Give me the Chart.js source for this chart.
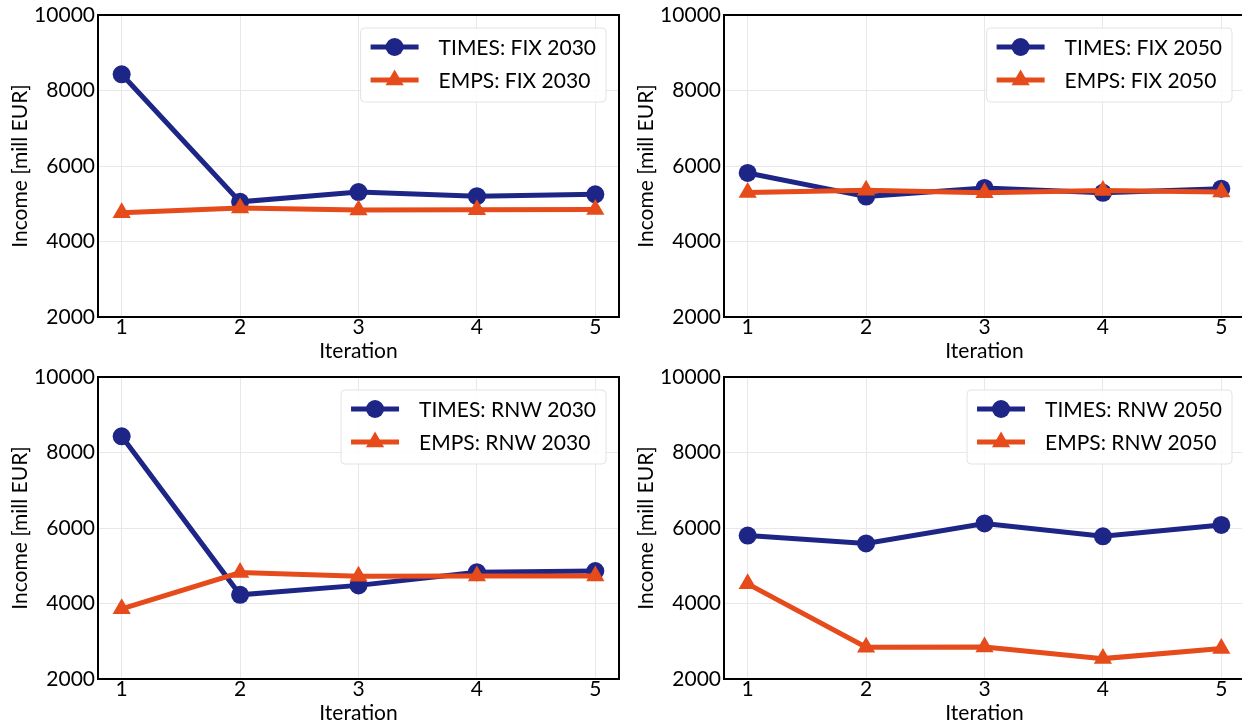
<!DOCTYPE html>
<html>
<head>
<meta charset="utf-8">
<script src="https://cdn.jsdelivr.net/npm/chart.js@4.4.1/dist/chart.umd.min.js"></script>
<style>
  html, body { margin: 0; padding: 0; background: #fff; overflow: hidden; }
  body { width: 1242px; height: 727px; position: relative; }
  .box { position: absolute; width: 622px; height: 362px; }
</style>
</head>
<body>
<div class="box" style="left:0;top:0"><canvas id="c1"></canvas></div>
<div class="box" style="left:626px;top:0"><canvas id="c2"></canvas></div>
<div class="box" style="left:0;top:362px"><canvas id="c3"></canvas></div>
<div class="box" style="left:626px;top:362px"><canvas id="c4"></canvas></div>
<script>
// ---- data ----
const iterations = [1, 2, 3, 4, 5];
const yTickValues = [2000, 4000, 6000, 8000, 10000];

const timesFix2030 = [8430, 5050, 5310, 5200, 5250];
const empsFix2030  = [4760, 4890, 4835, 4840, 4845];
const timesFix2050 = [5815, 5190, 5420, 5290, 5400];
const empsFix2050  = [5300, 5360, 5290, 5350, 5310];
const timesRnw2030 = [8430, 4230, 4480, 4830, 4860];
const empsRnw2030  = [3860, 4820, 4720, 4730, 4730];
const timesRnw2050 = [5800, 5590, 6120, 5780, 6080];
const empsRnw2050  = [4520, 2840, 2850, 2540, 2810];

const labelsTimes = ['TIMES: FIX 2030', 'TIMES: FIX 2050', 'TIMES: RNW 2030', 'TIMES: RNW 2050'];
const labelsEmps  = ['EMPS: FIX 2030', 'EMPS: FIX 2050', 'EMPS: RNW 2030', 'EMPS: RNW 2050'];
const yTitle = 'Income [mill EUR]';
const xTitle = 'Iteration';

// ---- style ----
const BLUE = '#1d2586';
const ORANGE = '#e54b1b';
const FONT = 'Lato';
const FS = 21;

function drawMarker(ctx, style, x, y, r, color) {
  ctx.fillStyle = color;
  ctx.beginPath();
  if (style === 'circle') {
    ctx.arc(x, y, r, 0, Math.PI * 2);
  } else {
    for (let k = 0; k < 3; k++) {
      const a = k * 2 * Math.PI / 3;
      const px = x + Math.sin(a) * r, py = y - Math.cos(a) * r;
      if (k === 0) ctx.moveTo(px, py); else ctx.lineTo(px, py);
    }
    ctx.closePath();
  }
  ctx.fill();
}

const framePlugin = {
  id: 'frame',
  afterDatasetsDraw(chart) {
    const {ctx, chartArea: a} = chart;
    ctx.save();
    ctx.strokeStyle = '#000';
    ctx.lineWidth = 2;
    ctx.strokeRect(a.left, a.top, a.right - a.left, a.bottom - a.top);
    ctx.restore();
  }
};

const legendPlugin = {
  id: 'lineLegend',
  afterDraw(chart) {
    const {ctx, chartArea: a} = chart;
    const ds = chart.data.datasets;
    ctx.save();
    ctx.font = FS + 'px ' + FONT;
    const tw = Math.max(...ds.map(d => ctx.measureText(d.label).width));
    const padL = 10, lineLen = 48, gap = 20, padR = 10;
    const w = padL + lineLen + gap + tw + padR;
    const h = 74;
    const right = a.right - 13, top = a.top + 13;
    const left = right - w;
    ctx.beginPath();
    if (ctx.roundRect) ctx.roundRect(left, top, w, h, 4); else ctx.rect(left, top, w, h);
    ctx.fillStyle = 'rgba(255,255,255,0.85)';
    ctx.fill();
    ctx.strokeStyle = '#e3e3e3';
    ctx.lineWidth = 1;
    ctx.stroke();
    ds.forEach((d, i) => {
      const y = top + 19 + i * 33;
      ctx.strokeStyle = d.borderColor;
      ctx.lineWidth = d.borderWidth;
      ctx.beginPath();
      ctx.moveTo(left + padL, y);
      ctx.lineTo(left + padL + lineLen, y);
      ctx.stroke();
      drawMarker(ctx, d.pointStyle, left + padL + lineLen / 2, y, d.pointRadius, d.borderColor);
      ctx.fillStyle = '#000';
      ctx.textAlign = 'left';
      ctx.textBaseline = 'middle';
      ctx.fillText(d.label, left + padL + lineLen + gap, y + 1);
    });
    ctx.restore();
  }
};

function makeChart(id, timesVals, empsVals, tLabel, eLabel) {
  const font = {family: FONT, size: FS, lineHeight: 1};
  return new Chart(document.getElementById(id), {
    type: 'line',
    data: {
      labels: iterations,
      datasets: [
        {
          label: tLabel,
          data: iterations.map((x, i) => ({x: x, y: timesVals[i]})),
          borderColor: BLUE, backgroundColor: BLUE,
          borderWidth: 5, pointStyle: 'circle', pointRadius: 9,
          pointBorderWidth: 0, pointBackgroundColor: BLUE,
          tension: 0, order: 1
        },
        {
          label: eLabel,
          data: iterations.map((x, i) => ({x: x, y: empsVals[i]})),
          borderColor: ORANGE, backgroundColor: ORANGE,
          borderWidth: 5, pointStyle: 'triangle', pointRadius: 10.5,
          pointBorderWidth: 0, pointBackgroundColor: ORANGE,
          tension: 0, order: 0
        }
      ]
    },
    options: {
      responsive: true,
      maintainAspectRatio: false,
      animation: false,
      events: [],
      layout: {autoPadding: false, padding: {top: 15, right: 3, left: 0, bottom: 0}},
      plugins: {legend: {display: false}, tooltip: {enabled: false}},
      scales: {
        x: {
          type: 'linear', min: 0.8, max: 5.2,
          afterBuildTicks: s => { s.ticks = iterations.map(v => ({value: v})); },
          afterFit: s => { s.height = 45; s.paddingLeft = 0; s.paddingRight = 0; },
          grid: {color: '#e8e8e8', lineWidth: 1, drawTicks: false},
          border: {display: false},
          ticks: {font: font, color: '#000', padding: 0, maxRotation: 0,
                  callback: v => String(v)},
          title: {display: true, text: xTitle, font: font, color: '#000', padding: {top: 0, bottom: 0}}
        },
        y: {
          type: 'linear', min: 2000, max: 10000,
          afterBuildTicks: s => { s.ticks = yTickValues.map(v => ({value: v})); },
          afterFit: s => { s.width = 98; s.paddingTop = 0; s.paddingBottom = 0; },
          grid: {color: '#e8e8e8', lineWidth: 1, drawTicks: false},
          border: {display: false},
          ticks: {font: font, color: '#000', padding: 3, callback: v => String(v)},
          title: {display: true, text: yTitle, font: font, color: '#000', padding: {top: 10, bottom: 0}}
        }
      }
    },
    plugins: [framePlugin, legendPlugin]
  });
}

makeChart('c1', timesFix2030, empsFix2030, labelsTimes[0], labelsEmps[0]);
makeChart('c2', timesFix2050, empsFix2050, labelsTimes[1], labelsEmps[1]);
makeChart('c3', timesRnw2030, empsRnw2030, labelsTimes[2], labelsEmps[2]);
makeChart('c4', timesRnw2050, empsRnw2050, labelsTimes[3], labelsEmps[3]);
</script>
</body>
</html>
